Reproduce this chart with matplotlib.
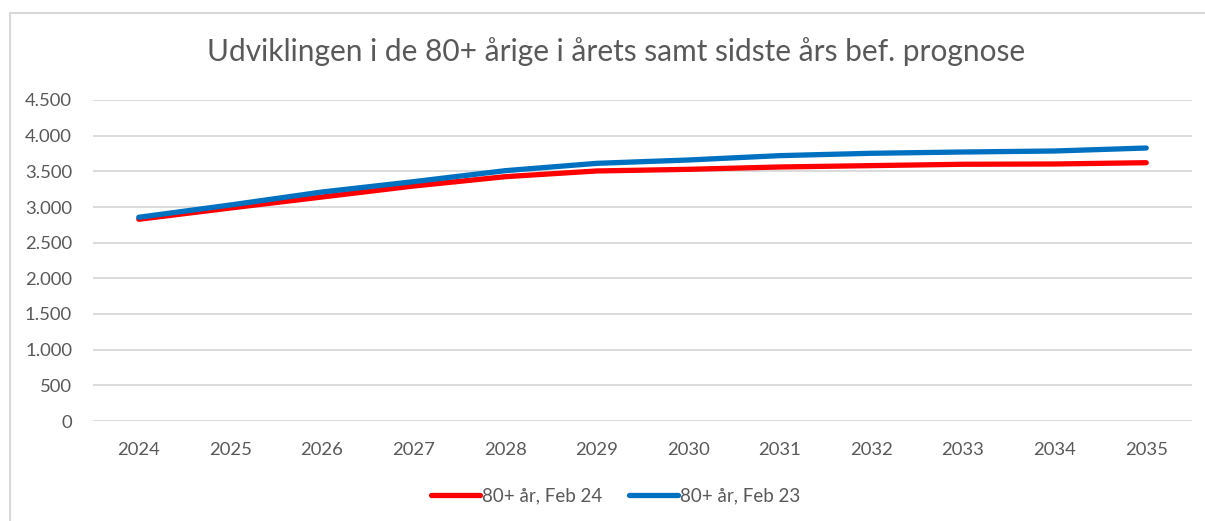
import numpy as np
import matplotlib.pyplot as plt
from matplotlib.patches import Rectangle

plt.rcParams['font.family'] = ['Lato', 'DejaVu Sans']

years = [2024, 2025, 2026, 2027, 2028, 2029, 2030, 2031, 2032, 2033, 2034, 2035]
feb24 = [2828, 2986, 3140, 3294, 3425, 3505, 3528, 3561, 3580, 3599, 3603, 3621]
feb23 = [2856, 3028, 3210, 3355, 3509, 3612, 3659, 3720, 3753, 3771, 3785, 3827]
yticks = [0, 500, 1000, 1500, 2000, 2500, 3000, 3500, 4000, 4500]
title = "Udviklingen i de 80+ årige i årets samt sidste års bef. prognose"

txt = '#595959'
fig = plt.figure(figsize=(12.05, 5.21), dpi=100)
# chart border
fig.patches.append(Rectangle((10/1205, -0.1), 1.2, 1 - 13/521 + 0.1, transform=fig.transFigure,
                             fill=False, edgecolor='#d9d9d9', linewidth=1.5))

ax = fig.add_axes([93/1205, 1 - 421/521, 1099/1205, 321/521])
x = np.arange(len(years))
ax.plot(x, feb24, color='#ff0000', lw=3.8, solid_capstyle='round', label='80+ år, Feb 24')
ax.plot(x, feb23, color='#0070c0', lw=3.8, solid_capstyle='round', label='80+ år, Feb 23')

ax.set_xlim(-0.5, len(years) - 0.5)
ax.set_ylim(0, 4500)
ax.set_yticks(yticks)
ax.set_yticklabels([f"{v:,}".replace(',', '.') for v in yticks])
ax.set_xticks(x)
ax.set_xticklabels([str(y) for y in years])
ax.grid(axis='y', color='#d9d9d9', lw=1.3)
ax.set_axisbelow(True)
for s in ax.spines.values():
    s.set_visible(False)
ax.tick_params(length=0, labelsize=13.3, colors=txt)
ax.tick_params(axis='y', pad=15)
ax.tick_params(axis='x', pad=15)

fig.text(0.511, 1 - 52/521, title, ha='center', va='center', fontsize=21.5, color=txt)
fig.legend(loc='center', bbox_to_anchor=(0.511, 1 - 496/521), ncol=2, frameon=False,
           fontsize=13.5, labelcolor=txt, handlelength=2.6, handletextpad=0.15, columnspacing=1.4)

fig.savefig('out.png', dpi=100)
